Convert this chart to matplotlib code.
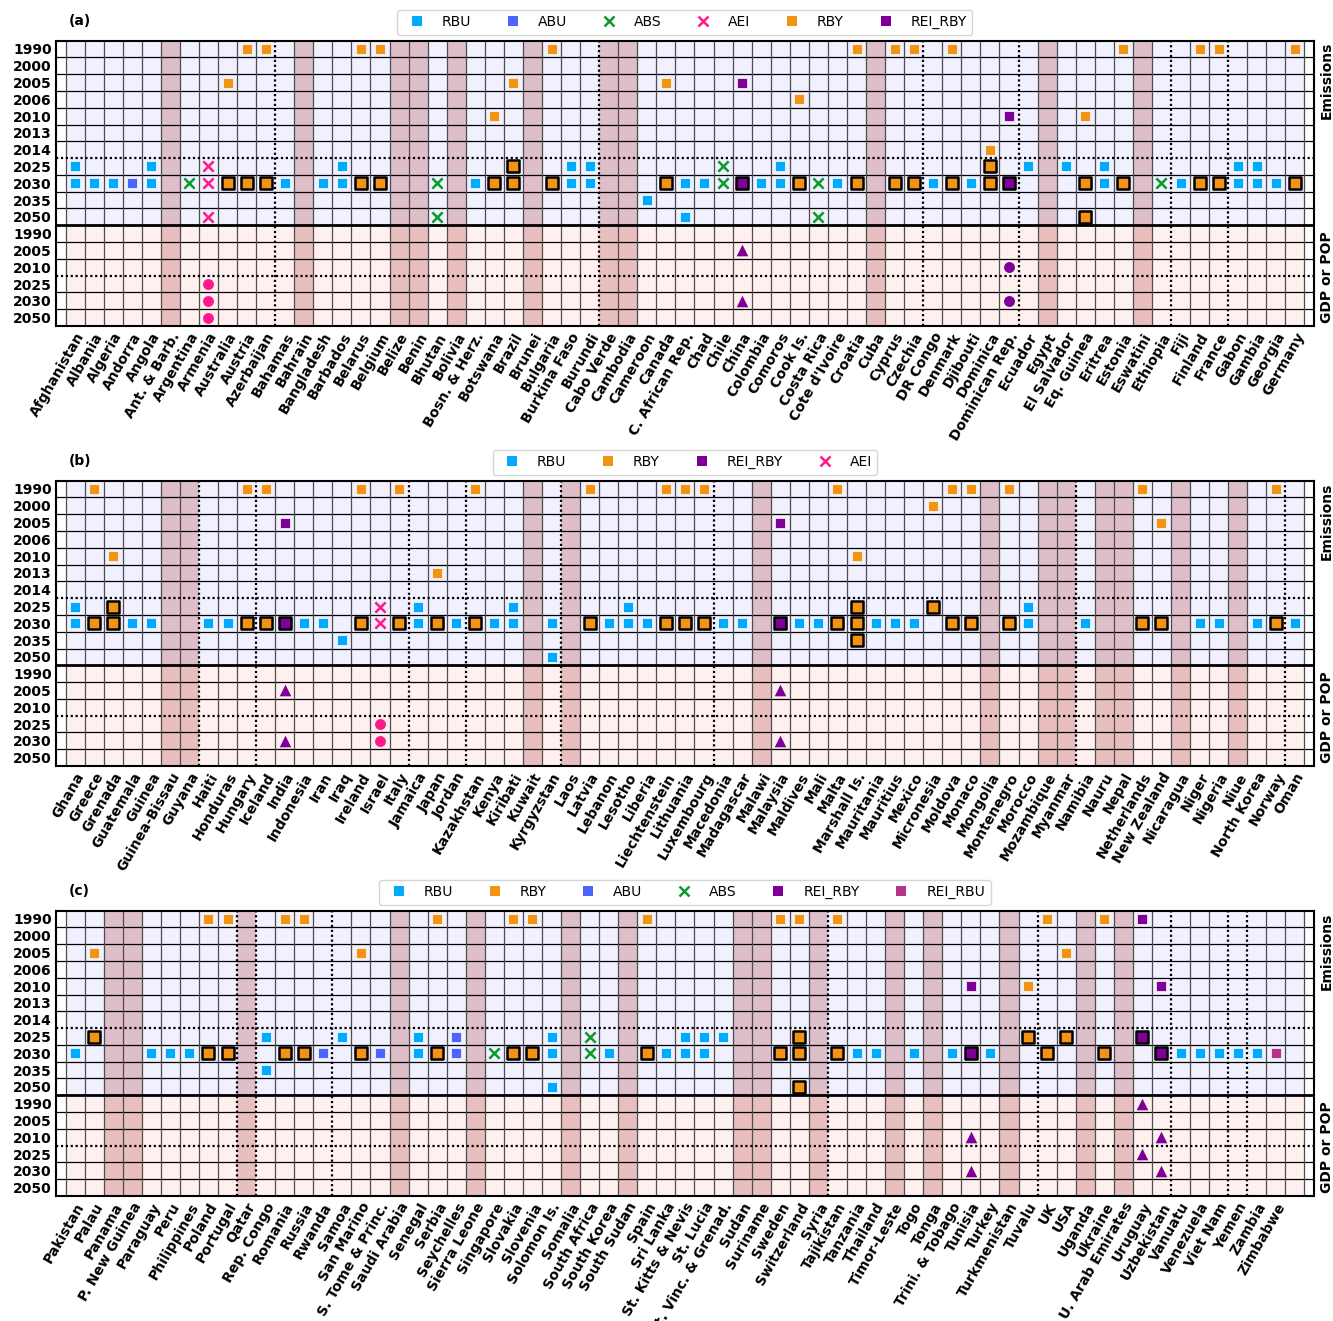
import matplotlib
matplotlib.use("Agg")
import matplotlib.pyplot as plt
from matplotlib.lines import Line2D

# ---------------- data ----------------
EMIS_YEARS = [1990, 2000, 2005, 2006, 2010, 2013, 2014, 2025, 2030, 2035, 2050]
GDP_YEARS = [1990, 2005, 2010, 2025, 2030, 2050]
NCOL = 65

A_COUNTRIES = ["Afghanistan", "Albania", "Algeria", "Andorra", "Angola", "Ant. & Barb.", "Argentina",
               "Armenia", "Australia", "Austria", "Azerbaijan", "Bahamas", "Bahrain", "Bangladesh",
               "Barbados", "Belarus", "Belgium", "Belize", "Benin", "Bhutan", "Bolivia", "Bosn. & Herz.",
               "Botswana", "Brazil", "Brunei", "Bulgaria", "Burkina Faso", "Burundi", "Cabo Verde",
               "Cambodia", "Cameroon", "Canada", "C. African Rep.", "Chad", "Chile", "China", "Colombia",
               "Comoros", "Cook Is.", "Costa Rica", "Cote d'Ivoire", "Croatia", "Cuba", "Cyprus", "Czechia",
               "DR Congo", "Denmark", "Djibouti", "Dominica", "Dominican Rep.", "Ecuador", "Egypt",
               "El Salvador", "Eq. Guinea", "Eritrea", "Estonia", "Eswatini", "Ethiopia", "Fiji", "Finland",
               "France", "Gabon", "Gambia", "Georgia", "Germany"]
A_SHADED = ["Ant. & Barb.", "Bahrain", "Belize", "Benin", "Bolivia", "Brunei", "Cabo Verde", "Cambodia",
            "Cuba", "Egypt", "Eswatini"]
A_RBU = {2025: ["Afghanistan", "Angola", "Barbados", "Burkina Faso", "Burundi", "Comoros", "Ecuador",
                "El Salvador", "Eritrea", "Gabon", "Gambia"],
         2030: ["Afghanistan", "Albania", "Algeria", "Angola", "Bahamas", "Bangladesh", "Barbados",
                "Bosn. & Herz.", "Burkina Faso", "Burundi", "C. African Rep.", "Chad", "Colombia", "Comoros",
                "Cote d'Ivoire", "DR Congo", "Djibouti", "Eritrea", "Fiji", "Gabon", "Gambia", "Georgia"],
         2035: ["Cameroon"],
         2050: ["C. African Rep."]}
A_ABU = {2030: ["Andorra"]}
A_ABS = {2025: ["Chile"], 2030: ["Argentina", "Bhutan", "Chile", "Costa Rica", "Ethiopia"],
         2050: ["Bhutan", "Costa Rica"]}
A_AEI = {2025: ["Armenia"], 2030: ["Armenia"], 2050: ["Armenia"]}
A_RBY_BASE = {1990: ["Austria", "Azerbaijan", "Belarus", "Belgium", "Bulgaria", "Croatia", "Cyprus", "Czechia",
                     "Denmark", "Estonia", "Finland", "France", "Germany"],
              2005: ["Australia", "Brazil", "Canada"], 2006: ["Cook Is."], 2010: ["Botswana", "Eq. Guinea"],
              2014: ["Dominica"]}
A_RBY_TARGET = {2025: ["Brazil", "Dominica"],
                2030: ["Australia", "Austria", "Azerbaijan", "Belarus", "Belgium", "Botswana", "Brazil",
                       "Bulgaria", "Canada", "Cook Is.", "Croatia", "Cyprus", "Czechia", "Denmark", "Dominica",
                       "Eq. Guinea", "Estonia", "Finland", "France", "Germany"],
                2050: ["Eq. Guinea"]}
A_REI_RBY_BASE = {2005: ["China"], 2010: ["Dominican Rep."]}
A_REI_RBY_TARGET = {2030: ["China", "Dominican Rep."]}
A_GDP = [("China", 2005, "REI_RBY", "GDP"), ("China", 2030, "REI_RBY", "GDP"),
         ("Dominican Rep.", 2010, "REI_RBY", "POP"), ("Dominican Rep.", 2030, "REI_RBY", "POP"),
         ("Armenia", 2025, "AEI", "POP"), ("Armenia", 2030, "AEI", "POP"), ("Armenia", 2050, "AEI", "POP")]

B_COUNTRIES = ["Ghana", "Greece", "Grenada", "Guatemala", "Guinea", "Guinea-Bissau", "Guyana", "Haiti",
               "Honduras", "Hungary", "Iceland", "India", "Indonesia", "Iran", "Iraq", "Ireland", "Israel",
               "Italy", "Jamaica", "Japan", "Jordan", "Kazakhstan", "Kenya", "Kiribati", "Kuwait",
               "Kyrgyzstan", "Laos", "Latvia", "Lebanon", "Lesotho", "Liberia", "Liechtenstein", "Lithuania",
               "Luxembourg", "Macedonia", "Madagascar", "Malawi", "Malaysia", "Maldives", "Mali", "Malta",
               "Marshall Is.", "Mauritania", "Mauritius", "Mexico", "Micronesia", "Moldova", "Monaco",
               "Mongolia", "Montenegro", "Morocco", "Mozambique", "Myanmar", "Namibia", "Nauru", "Nepal",
               "Netherlands", "New Zealand", "Nicaragua", "Niger", "Nigeria", "Niue", "North Korea",
               "Norway", "Oman"]
B_SHADED = ["Guinea-Bissau", "Guyana", "Kuwait", "Laos", "Malawi", "Mongolia", "Mozambique", "Myanmar",
            "Nauru", "Nepal", "Nicaragua", "Niue"]
B_RBU = {2025: ["Ghana", "Jamaica", "Kiribati", "Lesotho", "Morocco"],
         2030: ["Ghana", "Guatemala", "Guinea", "Haiti", "Honduras", "Indonesia", "Iran", "Jamaica", "Jordan",
                "Kenya", "Kiribati", "Kyrgyzstan", "Lebanon", "Lesotho", "Liberia", "Macedonia", "Madagascar",
                "Maldives", "Mali", "Mauritania", "Mauritius", "Mexico", "Morocco", "Namibia", "Niger",
                "Nigeria", "North Korea", "Oman"],
         2035: ["Iraq"], 2050: ["Kyrgyzstan"]}
B_AEI = {2025: ["Israel"], 2030: ["Israel"]}
B_RBY_BASE = {1990: ["Greece", "Hungary", "Iceland", "Ireland", "Italy", "Kazakhstan", "Latvia", "Liechtenstein",
                     "Lithuania", "Luxembourg", "Malta", "Moldova", "Monaco", "Montenegro", "Netherlands",
                     "Norway"],
              2000: ["Micronesia"], 2005: ["New Zealand"], 2010: ["Grenada", "Marshall Is."], 2013: ["Japan"]}
B_RBY_TARGET = {2025: ["Grenada", "Marshall Is.", "Micronesia"],
                2030: ["Greece", "Grenada", "Hungary", "Iceland", "Ireland", "Italy", "Japan", "Kazakhstan",
                       "Latvia", "Liechtenstein", "Lithuania", "Luxembourg", "Malta", "Marshall Is.", "Moldova",
                       "Monaco", "Montenegro", "Netherlands", "New Zealand", "Norway"],
                2035: ["Marshall Is."]}
B_REI_RBY_BASE = {2005: ["India", "Malaysia"]}
B_REI_RBY_TARGET = {2030: ["India", "Malaysia"]}
B_GDP = [("India", 2005, "REI_RBY", "GDP"), ("India", 2030, "REI_RBY", "GDP"),
         ("Malaysia", 2005, "REI_RBY", "GDP"), ("Malaysia", 2030, "REI_RBY", "GDP"),
         ("Israel", 2025, "AEI", "POP"), ("Israel", 2030, "AEI", "POP")]

C_COUNTRIES = ["Pakistan", "Palau", "Panama", "P. New Guinea", "Paraguay", "Peru", "Philippines", "Poland",
               "Portugal", "Qatar", "Rep. Congo", "Romania", "Russia", "Rwanda", "Samoa", "San Marino",
               "S. Tome & Princ.", "Saudi Arabia", "Senegal", "Serbia", "Seychelles", "Sierra Leone",
               "Singapore", "Slovakia", "Slovenia", "Solomon Is.", "Somalia", "South Africa", "South Korea",
               "South Sudan", "Spain", "Sri Lanka", "St. Kitts & Nevis", "St. Lucia", "St. Vinc. & Grenad.",
               "Sudan", "Suriname", "Sweden", "Switzerland", "Syria", "Tajikistan", "Tanzania", "Thailand",
               "Timor-Leste", "Togo", "Tonga", "Trini. & Tobago", "Tunisia", "Turkey", "Turkmenistan",
               "Tuvalu", "UK", "USA", "Uganda", "Ukraine", "U. Arab Emirates", "Uruguay", "Uzbekistan",
               "Vanuatu", "Venezuela", "Viet Nam", "Yemen", "Zambia", "Zimbabwe"]
C_SHADED = ["Panama", "P. New Guinea", "Qatar", "Saudi Arabia", "Sierra Leone", "Somalia", "South Sudan",
            "Sudan", "Suriname", "Syria", "Timor-Leste", "Tonga", "Turkmenistan", "Uganda", "U. Arab Emirates"]
C_RBU = {2025: ["Rep. Congo", "Samoa", "Senegal", "Solomon Is.", "St. Kitts & Nevis", "St. Lucia",
                "St. Vinc. & Grenad."],
         2030: ["Pakistan", "Paraguay", "Peru", "Philippines", "Senegal", "Solomon Is.", "South Korea",
                "Sri Lanka", "St. Kitts & Nevis", "St. Lucia", "Tanzania", "Thailand", "Togo",
                "Trini. & Tobago", "Turkey", "Vanuatu", "Venezuela", "Viet Nam", "Yemen", "Zambia"],
         2035: ["Rep. Congo"], 2050: ["Solomon Is."]}
C_ABU = {2025: ["Seychelles"], 2030: ["Rwanda", "S. Tome & Princ.", "Seychelles"]}
C_ABS = {2025: ["South Africa"], 2030: ["Singapore", "South Africa"]}
C_RBY_BASE = {1990: ["Poland", "Portugal", "Romania", "Russia", "Serbia", "Slovakia", "Slovenia", "Spain",
                     "Sweden", "Switzerland", "Tajikistan", "UK", "Ukraine"],
              2005: ["Palau", "San Marino", "USA"], 2010: ["Tuvalu"]}
C_RBY_TARGET = {2025: ["Palau", "Switzerland", "Tuvalu", "USA"],
                2030: ["Poland", "Portugal", "Romania", "Russia", "San Marino", "Serbia", "Slovakia",
                       "Slovenia", "Spain", "Sweden", "Switzerland", "Tajikistan", "UK", "Ukraine"],
                2050: ["Switzerland"]}
C_REI_RBY_BASE = {1990: ["Uruguay"], 2010: ["Tunisia", "Uzbekistan"]}
C_REI_RBY_TARGET = {2025: ["Uruguay"], 2030: ["Tunisia", "Uzbekistan"]}
C_REI_RBU = {2030: ["Zimbabwe"]}
C_GDP = [("Uruguay", 1990, "REI_RBY", "GDP"), ("Uruguay", 2025, "REI_RBY", "GDP"),
         ("Tunisia", 2010, "REI_RBY", "GDP"), ("Tunisia", 2030, "REI_RBY", "GDP"),
         ("Uzbekistan", 2010, "REI_RBY", "GDP"), ("Uzbekistan", 2030, "REI_RBY", "GDP")]

# ---------------- styles ----------------
COLORS = {"RBU": "#00aaff", "ABU": "#4d64ff", "ABS": "#0a9a2a", "AEI": "#ff1a8c",
          "RBY": "#f39314", "REI_RBY": "#7f0099", "REI_RBU": "#b5338a"}
MARKERS = {"RBU": "s", "ABU": "s", "ABS": "x", "AEI": "x", "RBY": "s", "REI_RBY": "s", "REI_RBU": "s"}
GDP_MARKERS = {"GDP": "^", "POP": "o"}

PANELS = [
    dict(label="(a)", countries=A_COUNTRIES, shaded=A_SHADED,
         series=[("RBU", A_RBU, False), ("ABU", A_ABU, False), ("ABS", A_ABS, False), ("AEI", A_AEI, False),
                 ("RBY", A_RBY_BASE, False), ("RBY", A_RBY_TARGET, True),
                 ("REI_RBY", A_REI_RBY_BASE, False), ("REI_RBY", A_REI_RBY_TARGET, True)],
         gdp=A_GDP, legend=["RBU", "ABU", "ABS", "AEI", "RBY", "REI_RBY"]),
    dict(label="(b)", countries=B_COUNTRIES, shaded=B_SHADED,
         series=[("RBU", B_RBU, False), ("AEI", B_AEI, False),
                 ("RBY", B_RBY_BASE, False), ("RBY", B_RBY_TARGET, True),
                 ("REI_RBY", B_REI_RBY_BASE, False), ("REI_RBY", B_REI_RBY_TARGET, True)],
         gdp=B_GDP, legend=["RBU", "RBY", "REI_RBY", "AEI"]),
    dict(label="(c)", countries=C_COUNTRIES, shaded=C_SHADED,
         series=[("RBU", C_RBU, False), ("ABU", C_ABU, False), ("ABS", C_ABS, False),
                 ("RBY", C_RBY_BASE, False), ("RBY", C_RBY_TARGET, True),
                 ("REI_RBY", C_REI_RBY_BASE, False), ("REI_RBY", C_REI_RBY_TARGET, True),
                 ("REI_RBU", C_REI_RBU, False)],
         gdp=C_GDP, legend=["RBU", "RBY", "ABU", "ABS", "REI_RBY", "REI_RBU"]),
]

NE = len(EMIS_YEARS)
NR = NE + len(GDP_YEARS)


def erow(y):
    return EMIS_YEARS.index(y) + 0.5


def grow(y):
    return NE + GDP_YEARS.index(y) + 0.5


fig = plt.figure(figsize=(13.33, 13.21), dpi=100)
bottoms = [0.7532, 0.4201, 0.0946]

for p, bottom in zip(PANELS, bottoms):
    ax = fig.add_axes([0.042, bottom, 0.9437, 0.2161])
    countries = p["countries"]
    ax.set_xlim(-1, NCOL)
    ax.set_ylim(NR, 0)

    # backgrounds
    ax.fill_between([-0.5, NCOL - 0.5], 0, NE, color="#f0f0ff", lw=0, zorder=0)
    ax.fill_between([-0.5, NCOL - 0.5], NE, NR, color="#fff0f0", lw=0, zorder=0)
    for name in p["shaded"]:
        i = countries.index(name)
        ax.axvspan(i - 0.5, i + 0.5, color="brown", alpha=0.25, lw=0, zorder=0.5)

    # horizontal grid
    for r in range(1, NR):
        if r == NE:
            ax.axhline(r, color="k", lw=2.0, zorder=1.2)
        elif r in (EMIS_YEARS.index(2025), NE + GDP_YEARS.index(2025)):
            ax.axhline(r, color="k", lw=1.6, ls=(0, (1, 1.2)), zorder=1.2)
        else:
            ax.axhline(r, color="k", lw=0.9, zorder=1)
    # vertical grid
    for k in range(NCOL + 1):
        xv = k - 0.5
        if 0 < k < len(countries) and countries[k][0] != countries[k - 1][0]:
            ax.axvline(xv, color="k", lw=1.6, ls=(0, (1, 1.2)), zorder=1.2)
        else:
            ax.axvline(xv, color="0.3", lw=0.9, zorder=1)

    # emissions markers
    for typ, data, edged in p["series"]:
        xs, ys = [], []
        for yr, names in data.items():
            for n in names:
                xs.append(countries.index(n))
                ys.append(erow(yr))
        m = MARKERS[typ]
        if m == "x":
            ax.scatter(xs, ys, marker="x", s=55, c=COLORS[typ], linewidths=1.8, zorder=3)
        elif edged:
            ax.scatter(xs, ys, marker="s", s=66, c=COLORS[typ], edgecolors="k", linewidths=1.8, zorder=3)
        else:
            ax.scatter(xs, ys, marker="s", s=52, c=COLORS[typ], edgecolors="white", linewidths=0.5,
                       zorder=3)

    # GDP / POP markers
    for n, yr, typ, kind in p["gdp"]:
        ax.scatter([countries.index(n)], [grow(yr)], marker=GDP_MARKERS[kind],
                   s=70 if kind == "GDP" else 62, c=COLORS[typ], lw=0, zorder=3)

    # ticks
    ax.set_yticks([r + 0.5 for r in range(NR)])
    ax.set_yticklabels([str(y) for y in EMIS_YEARS + GDP_YEARS], fontsize=10, fontweight="bold")
    ax.set_xticks(range(len(countries)))
    ax.set_xticklabels(countries, rotation=60, ha="right", rotation_mode="anchor",
                       fontsize=10, fontweight="bold")
    ax.tick_params(axis="both", length=0, pad=3)
    for s in ax.spines.values():
        s.set_linewidth(1.5)
        s.set_zorder(4)

    ax.text(0.0105, 1.07, p["label"], transform=ax.transAxes, fontsize=10, fontweight="bold", va="center")
    ax.text(1.0103, 0.859, "Emissions", transform=ax.transAxes, rotation=90, ha="center", va="center",
            fontsize=10, fontweight="bold")
    ax.text(1.0103, 0.171, "GDP or POP", transform=ax.transAxes, rotation=90, ha="center", va="center",
            fontsize=10, fontweight="bold")

    handles = []
    for typ in p["legend"]:
        if MARKERS[typ] == "x":
            h = Line2D([], [], marker="x", ls="none", color=COLORS[typ], markersize=7, mew=1.8, label=typ)
        else:
            h = Line2D([], [], marker="s", ls="none", color=COLORS[typ], markersize=7.2, mew=0, label=typ)
        handles.append(h)
    ax.legend(handles=handles, loc="lower center", bbox_to_anchor=(0.5, 1.0), ncol=len(handles),
              fontsize=10, borderaxespad=0.4)

fig.savefig("out.png", dpi=100)
